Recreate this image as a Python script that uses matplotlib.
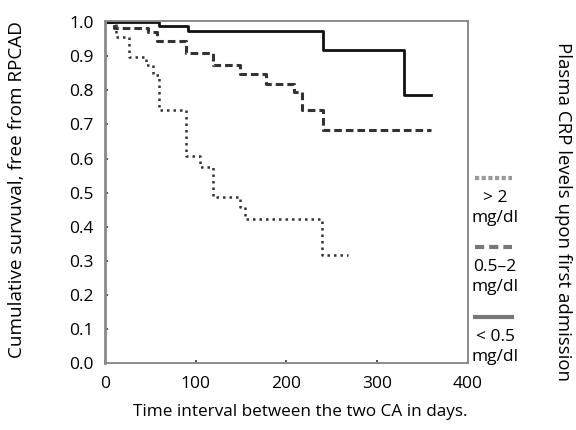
import matplotlib
matplotlib.use('Agg')
import matplotlib.pyplot as plt
from matplotlib.lines import Line2D

plt.rcParams['font.family'] = ['Open Sans', 'DejaVu Sans']

# Kaplan-Meier steps (day, survival)
low_days = [0, 60, 92, 240, 330, 360]
low_surv = [1.0, 0.988, 0.974, 0.917, 0.785, 0.785]

mid_days = [0, 10, 48, 57, 90, 119, 149, 178, 209, 217, 240, 360]
mid_surv = [1.0, 0.983, 0.970, 0.946, 0.910, 0.875, 0.849, 0.820, 0.795, 0.742, 0.683, 0.683]

high_days = [0, 12, 27, 45, 53, 60, 90, 105, 119, 149, 154, 239, 268]
high_surv = [1.0, 0.955, 0.898, 0.873, 0.844, 0.742, 0.608, 0.575, 0.488, 0.458, 0.424, 0.317, 0.317]

legend_labels = ['> 2\nmg/dl', '0.5\u20132\nmg/dl', '< 0.5\nmg/dl']

fig = plt.figure(figsize=(5.76, 4.30), dpi=100)
ax = fig.add_axes([0.182, 0.155, 0.630, 0.796])

ax.step(high_days, high_surv, where='post', color='#333333', lw=1.8,
        linestyle=(0, (1, 1.6)))
ax.step(mid_days, mid_surv, where='post', color='#333333', lw=2.2,
        linestyle=(0, (2.5, 1.3)))
ax.step(low_days, low_surv, where='post', color='#111111', lw=2.0)

ax.set_xlim(0, 400)
ax.set_ylim(0, 1.003)
ax.set_xticks([0, 100, 200, 300, 400])
ax.set_yticks([i / 10 for i in range(11)])
ax.set_yticklabels(['%.1f' % (i / 10) for i in range(11)])
ax.tick_params(direction='in', length=2.5, width=1.2, color='#333333',
               labelsize=12.5)
ax.tick_params(axis='y', pad=8)
ax.tick_params(axis='x', pad=9)
for s in ax.spines.values():
    s.set_color('#8a8a8a')
    s.set_linewidth(1.4)
ax.spines['left'].set_linewidth(2.0)

fig.text(300 / 576, 1 - 412 / 430, 'Time interval between the two CA in days.',
         ha='center', va='center', fontsize=12.3)
fig.text(17 / 576, 1 - 190 / 430, 'Cumulative survuval, free from RPCAD',
         rotation=90, ha='center', va='center', fontsize=13.6)
fig.text(563 / 576, 1 - 211 / 430, 'Plasma CRP levels upon first admission',
         rotation=270, ha='center', va='center', fontsize=13.4)

# legend drawn by hand outside the axes
styles = [dict(color='#999999', lw=3.0, linestyle=(0, (1, 0.6))),
          dict(color='#777777', lw=3.0, linestyle=(0, (2.2, 1.2))),
          dict(color='#777777', lw=3.0, linestyle='-')]
sample_px = [178, 247, 317]
for sp, st, lab in zip(sample_px, styles, legend_labels):
    sy = 1 - sp / 430
    fig.add_artist(Line2D([475 / 576, 512 / 576], [sy, sy],
                          transform=fig.transFigure, **st))
    fig.text(495 / 576, 1 - (sp + 30) / 430, lab, ha='center', va='center',
             fontsize=12.5, linespacing=1.3)

fig.savefig('out.png', dpi=100)
